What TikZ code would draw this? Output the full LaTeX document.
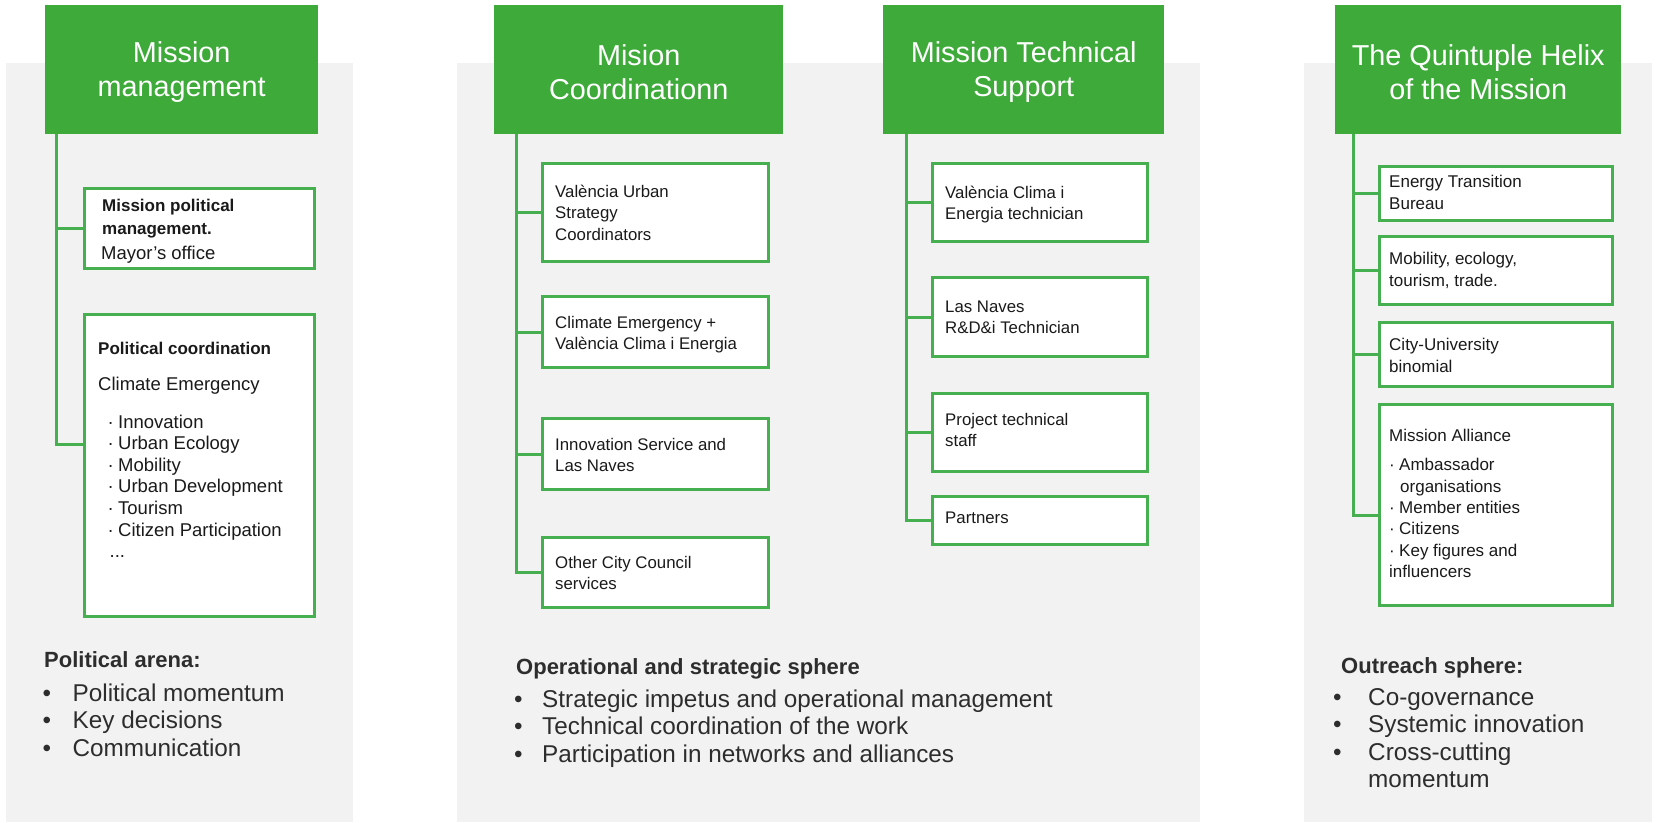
\documentclass[tikz,border=0pt]{standalone}
\usepackage{fontspec}
\setmainfont{Liberation Sans}
\usetikzlibrary{calc}
\definecolor{hdrgreen}{RGB}{61,170,57}
\definecolor{boxgreen}{RGB}{70,176,80}
\definecolor{panelgrey}{RGB}{242,242,242}
\definecolor{txtc}{RGB}{26,26,26}
\definecolor{btxtc}{RGB}{45,45,45}
\newcommand\fhead{\fontsize{28.8}{34}\selectfont}
\newcommand\fboxL{\fontsize{18.5}{21.6}\selectfont}
\newcommand\fboxLb{\fontsize{17}{23}\selectfont\bfseries}
\newcommand\fboxM{\fontsize{16.8}{21.3}\selectfont}
\newcommand\fboxR{\fontsize{17}{21.4}\selectfont}
\newcommand\fbhead{\fontsize{22}{27}\selectfont\bfseries}
\newcommand\fblist{\fontsize{24.3}{27.5}\selectfont}
\newcommand\mlines[1]{\begin{tabular}[t]{@{}l@{}}#1\end{tabular}}
\newcommand\dotitem{\makebox[10.5pt][l]{·}}
\newcommand\bulitem[1]{\makebox[#1][l]{•}}
\begin{document}
\begin{tikzpicture}[x=1pt,y=-1pt,
  panel/.style={fill=panelgrey},
  header/.style={fill=hdrgreen, inner sep=0, anchor=north west, minimum height=129pt},
  htext/.style={text=white, align=center, inner sep=0, font=\fhead},
  orgbox/.style={draw=boxgreen, line width=3pt, fill=white, inner sep=0, anchor=north west},
  conn/.style={draw=boxgreen, line width=3pt},
  tx/.style={anchor=base west, inner sep=0, text=txtc},
  btx/.style={anchor=base west, inner sep=0, text=btxtc}]
\useasboundingbox (0,0) rectangle (1660,822);
% panels
\fill[panel] (6,63) rectangle (353,822);
\fill[panel] (457,63) rectangle (1200,822);
\fill[panel] (1304,63) rectangle (1652,822);
% headers
\node[header, minimum width=273pt] (h1) at (45,5) {};
\node[header, minimum width=289pt] (h2) at (494,5) {};
\node[header, minimum width=281pt] (h3) at (883,5) {};
\node[header, minimum width=286pt] (h4) at (1335,5) {};
\node[htext] (h1t) at ($(h1.center)+(0,2.5)$) {Mission\\management};
\node[htext] (h2t) at ($(h2.center)+(0,2.5)$) {Mision\\Coordinationn};
\node[htext] (h3t) at ($(h3.center)+(0,2.5)$) {Mission Technical\\Support};
\node[htext] (h4t) at ($(h4.center)+(0,2.5)$) {The Quintuple Helix\\of the Mission};
% boxes
\node[orgbox, minimum width=230pt, minimum height=80pt] (l1) at (83,187) {};
\node[orgbox, minimum width=230pt, minimum height=302pt] (l2) at (83,313) {};
\node[orgbox, minimum width=226pt, minimum height=98pt] (m1) at (541,162) {};
\node[orgbox, minimum width=226pt, minimum height=71pt] (m2) at (541,295) {};
\node[orgbox, minimum width=226pt, minimum height=71pt] (m3) at (541,417) {};
\node[orgbox, minimum width=226pt, minimum height=70pt] (m4) at (541,536) {};
\node[orgbox, minimum width=215pt, minimum height=78pt] (t1) at (931,162) {};
\node[orgbox, minimum width=215pt, minimum height=79pt] (t2) at (931,276) {};
\node[orgbox, minimum width=215pt, minimum height=78pt] (t3) at (931,392) {};
\node[orgbox, minimum width=215pt, minimum height=48pt] (t4) at (931,495) {};
\node[orgbox, minimum width=233pt, minimum height=54pt] (r1) at (1378,165) {};
\node[orgbox, minimum width=233pt, minimum height=68pt] (r2) at (1378,235) {};
\node[orgbox, minimum width=233pt, minimum height=64pt] (r3) at (1378,321) {};
\node[orgbox, minimum width=233pt, minimum height=201pt] (r4) at (1378,403) {};
% connectors
\draw[conn] ([xshift=11pt]h1.south west) |- (l1.west);
\draw[conn] ([xshift=11pt]h1.south west) |- ($(l2.west)+(0,-21.5)$);
\foreach \b in {m1,m2,m3,m4} \draw[conn] ([xshift=22pt]h2.south west) |- (\b.west);
\foreach \b in {t1,t2,t3,t4} \draw[conn] ([xshift=23pt]h3.south west) |- (\b.west);
\foreach \b in {r1,r2,r3} \draw[conn] ([xshift=18pt]h4.south west) |- (\b.west);
\draw[conn] ([xshift=18pt]h4.south west) |- ($(r4.west)+(0,10)$);
% left box texts
\node[tx, font=\fboxLb] (l1a) at (102,211.6) {\mlines{Mission political\\management.}};
\node[tx, font=\fboxL] (l1b) at (101,259) {Mayor’s office};
\node[tx, font=\fboxLb] (l2a) at (98,354.6) {Political coordination};
\node[tx, font=\fboxL] (l2b) at (98,390) {Climate Emergency};
\node[tx, font=\fboxL] (l2c) at (107.5,428) {\mlines{\dotitem Innovation\\\dotitem Urban Ecology\\\dotitem Mobility\\\dotitem Urban Development\\\dotitem Tourism\\\dotitem Citizen Participation\\\hspace{2pt}...}};
% middle box texts
\node[tx, font=\fboxM] (m1a) at (555,197.5) {\mlines{València Urban\\Strategy\\Coordinators}};
\node[tx, font=\fboxM] (m2a) at (555,328.5) {\mlines{Climate Emergency +\\València Clima i Energia}};
\node[tx, font=\fboxM] (m3a) at (555,450.5) {\mlines{Innovation Service and\\Las Naves}};
\node[tx, font=\fboxM] (m4a) at (555,568.5) {\mlines{Other City Council\\services}};
\node[tx, font=\fboxM] (t1a) at (945,198.5) {\mlines{València Clima i\\Energia technician}};
\node[tx, font=\fboxM] (t2a) at (945,312.5) {\mlines{Las Naves\\R\&D\&i Technician}};
\node[tx, font=\fboxM] (t3a) at (945,425.5) {\mlines{Project technical\\staff}};
\node[tx, font=\fboxM] (t4a) at (945,523.5) {Partners};
% right box texts
\node[tx, font=\fboxR] (r1a) at (1389,187.6) {\mlines{Energy Transition\\Bureau}};
\node[tx, font=\fboxR] (r2a) at (1389,264.6) {\mlines{Mobility, ecology,\\tourism, trade.}};
\node[tx, font=\fboxR] (r3a) at (1389,350.6) {\mlines{City-University\\binomial}};
\node[tx, font=\fboxR] (r4a) at (1389,441.6) {Mission Alliance};
\node[tx, font=\fboxR] (r4b) at (1389,470.6) {\mlines{\makebox[10pt][l]{·}Ambassador\\\hspace{11pt}organisations\\\makebox[10pt][l]{·}Member entities\\\makebox[10pt][l]{·}Citizens\\\makebox[10pt][l]{·}Key figures and\\influencers}};
% bottom texts
\node[btx, font=\fbhead] (pa) at (44,667) {Political arena:};
\node[btx, font=\fblist] (pal) at (42.5,701) {\mlines{\bulitem{30pt}Political momentum\\\bulitem{30pt}Key decisions\\\bulitem{30pt}Communication}};
\node[btx, font=\fbhead] (os) at (516,674) {Operational and strategic sphere};
\node[btx, font=\fblist] (osl) at (514,707) {\mlines{\bulitem{28pt}Strategic impetus and operational management\\\bulitem{28pt}Technical coordination of the work\\\bulitem{28pt}Participation in networks and alliances}};
\node[btx, font=\fbhead] (ou) at (1341,673) {Outreach sphere:};
\node[btx, font=\fblist] (oul) at (1333,705) {\mlines{\bulitem{35pt}Co-governance\\\bulitem{35pt}Systemic innovation\\\bulitem{35pt}Cross-cutting\\\hspace{35pt}momentum}};
\end{tikzpicture}
\end{document}
